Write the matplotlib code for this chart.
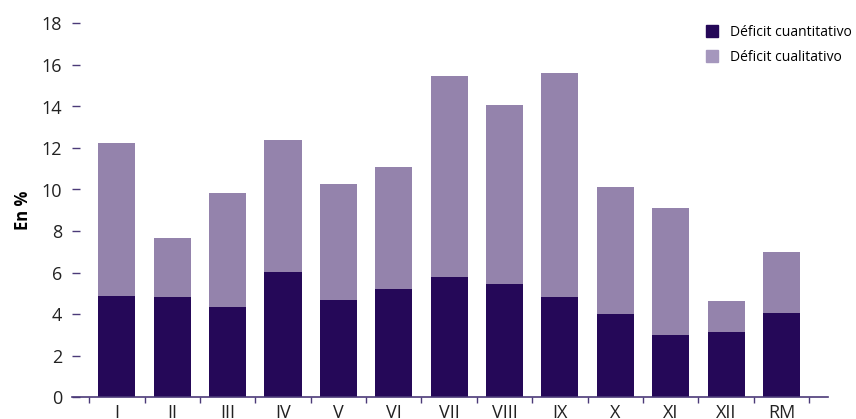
import matplotlib.pyplot as plt
from matplotlib.patches import Patch

plt.rcParams["font.family"] = ["Open Sans", "DejaVu Sans"]

regiones = ["I", "II", "III", "IV", "V", "VI", "VII", "VIII", "IX", "X", "XI", "XII", "RM"]
cuantitativo = [4.87, 4.82, 4.34, 6.02, 4.67, 5.19, 5.78, 5.45, 4.82, 4.00, 2.99, 3.13, 4.05]
total = [12.24, 7.66, 9.83, 12.39, 10.27, 11.08, 15.47, 14.07, 15.61, 10.12, 9.11, 4.63, 6.99]
cualitativo = [t - c for t, c in zip(total, cuantitativo)]

c_oscuro = "#250858"
c_claro = "#9483ac"
c_eje = "#4b3a78"

fig = plt.figure(figsize=(8.56, 4.19), dpi=100)
ax = fig.add_axes([72 / 856, 1 - 397 / 419, (828 - 72) / 856, (397 - 23.5) / 419])

x = list(range(len(regiones)))
ax.bar(x, cuantitativo, width=0.67, color=c_oscuro, zorder=2)
ax.bar(x, cualitativo, width=0.67, bottom=cuantitativo, color=c_claro, zorder=2)

ax.set_xlim(-0.81, len(regiones) - 0.16)
ax.set_ylim(0, 18)
ax.set_yticks(range(0, 19, 2))

ax.set_xticks(x)
ax.set_xticklabels(regiones, fontsize=13, color="#222222")
ax.set_xticks([i - 0.5 for i in range(len(regiones) + 1)], minor=True)
ax.tick_params(axis="x", which="major", length=0, pad=5)
ax.tick_params(axis="x", which="minor", length=4, width=1, color=c_eje, direction="out")
ax.tick_params(axis="y", length=6, width=1, color=c_eje, direction="in", pad=7,
               labelsize=13, labelcolor="#222222")

for lado in ["left", "top", "right"]:
    ax.spines[lado].set_visible(False)
ax.spines["bottom"].set_color(c_eje)
ax.spines["bottom"].set_linewidth(1.2)

ax.set_ylabel("En %", fontsize=12, fontweight="bold", labelpad=7)

handles = [Patch(color=c_oscuro, label="Déficit cuantitativo"),
           Patch(color="#a597bd", label="Déficit cualitativo")]
fig.legend(handles=handles, loc="upper left", bbox_to_anchor=(699 / 856, 1 - 18 / 419),
           frameon=False, fontsize=10, handlelength=0.9, handleheight=0.9,
           handletextpad=0.8, labelspacing=0.7, borderpad=0)

fig.savefig("out.png", dpi=100)
